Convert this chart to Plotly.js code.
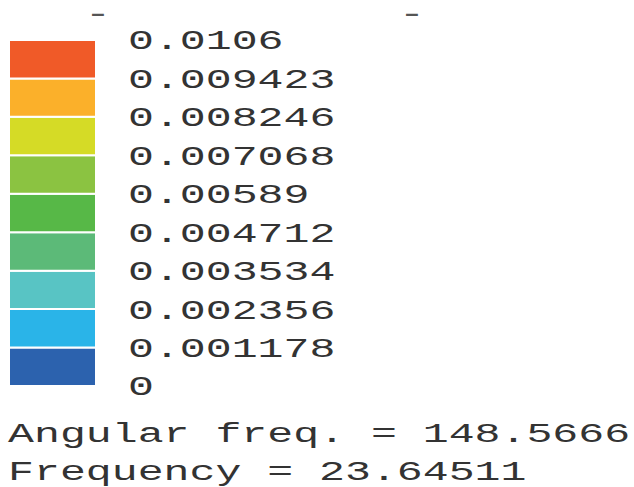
<!DOCTYPE html>
<html>
<head>
<meta charset="utf-8">
<script src="https://cdn.plot.ly/plotly-3.0.1.min.js"></script>
<style>
  html, body { margin: 0; padding: 0; background: #fff; }
  #chart { width: 634px; height: 487px; }
</style>
</head>
<body>
<div id="chart"></div>
<script>
// contour levels (bottom to top) and their printed labels
const levels = [0, 0.001178, 0.002356, 0.003534, 0.004712, 0.00589, 0.007068, 0.008246, 0.009423, 0.0106];
const levelLabels = ["0", "0.001178", "0.002356", "0.003534", "0.004712", "0.00589", "0.007068", "0.008246", "0.009423", "0.0106"];
// band colours (bottom to top)
const bandColors = ["#2C62AE", "#2AB4E8", "#58C4C4", "#5CBA78", "#57B847", "#8BC341", "#D5DB26", "#FBB02A", "#F05A28"];
// summary lines
const infoLines = ["Angular freq. = 148.5666", "Frequency = 23.64511"];

const bandBase = levels.slice(0, -1);
const bandSize = bandBase.map((b, i) => levels[i + 1] - b);

const trace = {
  type: 'bar',
  x: bandBase.map(() => 0),
  base: bandBase,
  y: bandSize,
  width: 1,
  marker: { color: bandColors, line: { color: '#ffffff', width: 2 } },
  hoverinfo: 'skip',
  showlegend: false
};

const FONT = '"Liberation Mono", "DejaVu Sans Mono", monospace';
const txtFont = { family: FONT, size: 27, color: '#333333' };
const STRETCH = 1.6;   // the original bitmap font is wider than any installed mono font

const px2x = px => (px - 9) / 87;
const px2y = py => (386 - py) / 346;

const layout = {
  width: 634, height: 487,
  margin: { l: 9, r: 538, t: 40, b: 101, pad: 0 },
  paper_bgcolor: '#ffffff', plot_bgcolor: '#ffffff',
  barmode: 'overlay',
  xaxis: { range: [-0.5, 0.5], visible: false, fixedrange: true },
  yaxis: {
    range: [levels[0], levels[levels.length - 1]],
    side: 'right',
    tickvals: levels, ticktext: levelLabels,
    ticks: '', showgrid: false, zeroline: false, showline: false,
    ticklabelstandoff: 31,
    tickfont: txtFont,
    automargin: false, fixedrange: true
  },
  annotations: [
    { text: infoLines[0], xref: 'paper', yref: 'paper', x: px2x(6), y: px2y(435), xanchor: 'left', yanchor: 'middle', showarrow: false, font: txtFont },
    { text: infoLines[1], xref: 'paper', yref: 'paper', x: px2x(6), y: px2y(473), xanchor: 'left', yanchor: 'middle', showarrow: false, font: txtFont },
    { text: '-', xref: 'paper', yref: 'paper', x: px2x(83), y: px2y(15), xanchor: 'left', yanchor: 'middle', showarrow: false, font: { family: FONT, size: 27, color: '#555555' } },
    { text: '-', xref: 'paper', yref: 'paper', x: px2x(397), y: px2y(15), xanchor: 'left', yanchor: 'middle', showarrow: false, font: { family: FONT, size: 27, color: '#555555' } }
  ]
};

function stretchText(gd) {
  const els = gd.querySelectorAll('.main-svg .ytick text, .main-svg .annotation-text');
  els.forEach(el => {
    const bb = el.getBBox();
    const prev = el.getAttribute('transform') || '';
    el.setAttribute('transform', (prev + ' translate(' + bb.x + ',0) scale(' + STRETCH + ',1) translate(' + (-bb.x) + ',0)').trim());
  });
}

Plotly.newPlot('chart', [trace], layout, { displayModeBar: false, staticPlot: true })
  .then(gd => stretchText(gd));
</script>
</body>
</html>
